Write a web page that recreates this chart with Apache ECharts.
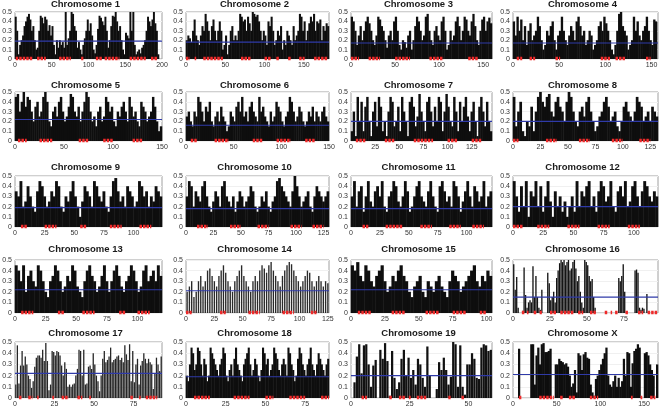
<!DOCTYPE html>
<html><head><meta charset="utf-8">
<script src="https://cdn.jsdelivr.net/npm/echarts@6.0.0/dist/echarts.min.js"></script>
<style>html,body{margin:0;padding:0;background:#fff}#c{width:661px;height:411px}</style>
</head><body><div id="c"></div>
<script>
// ---- data ----
const chrNames = ['Chromosome 1','Chromosome 2','Chromosome 3','Chromosome 4','Chromosome 5','Chromosome 6','Chromosome 7','Chromosome 8','Chromosome 9','Chromosome 10','Chromosome 11','Chromosome 12','Chromosome 13','Chromosome 14','Chromosome 15','Chromosome 16','Chromosome 17','Chromosome 18','Chromosome 19','Chromosome X'];
const binMb = [2,2,2,2,2,2,2,2,2,2,2,2,2,2,2,1,1,1,1,2];
const axisMaxMb = [200,182,160,157,150,150,146,132,124,130,122,120,120,126,104,98,93,90,60,166];
const tickStepMb = [50,50,50,50,50,50,25,25,25,25,25,25,25,25,25,25,25,25,25,50];
const thresholds = [0.19,0.18,0.17,0.17,0.22,0.16,0.2,0.2,0.19,0.18,0.18,0.2,0.22,0.21,0.22,0.15,0.22,0.19,0.2,0.21];
const yTicks = [0,0.1,0.2,0.3,0.4,0.5];

const chr1 = [0.45,0.3,0.05,0.15,0.2,0.25,0.35,0.4,0.45,0.48,0.42,0.3,0.35,0.2,0.1,0.12,0.3,0.46,0.44,0.38,0.45,0.42,0.3,0.36,0.25,0.35,0.15,0.05,0.2,0.12,0.2,0.15,0.18,0.12,0.5,0.15,0.22,0.3,0.5,0.48,0.35,0.3,0.12,0.18,0.1,0.05,0.15,0.22,0.3,0.42,0.3,0.38,0.25,0.1,0.06,0.15,0.32,0.46,0.44,0.4,0.36,0.45,0.3,0.12,0.2,0.35,0.46,0.45,0.5,0.4,0.3,0.35,0.2,0.1,0.05,0.28,0.25,0.22,0.5,0.3,0.5,0.15,0.05,0.08,0.1,0.06,0.12,0.15,0.2,0.3,0.45,0.4,0.35,0.42,0.5,0.38,0.3,0.05];
const chr2 = [0.2,0.25,0.22,0.18,0.3,0.42,0.25,0.2,0.15,0.25,0.35,0.3,0.48,0.4,0.3,0.2,0.35,0.42,0.3,0.2,0.3,0.4,0.3,0.1,0.15,0.25,0.05,0.15,0.3,0.35,0.2,0.25,0.2,0.3,0.48,0.45,0.4,0.42,0.3,0.45,0.38,0.3,0.5,0.48,0.45,0.47,0.4,0.3,0.2,0.3,0.25,0.15,0.4,0.35,0.45,0.3,0.15,0.2,0.3,0.25,0.35,0.1,0.2,0.15,0.3,0.25,0.2,0.15,0.35,0.2,0.25,0.3,0.48,0.45,0.3,0.4,0.2,0.3,0.38,0.45,0.4,0.48,0.3,0.4,0.38,0.42,0.2,0.35,0.3,0.38,0.35];
const chr3 = [0.45,0.4,0.3,0.15,0.25,0.35,0.2,0.3,0.4,0.45,0.38,0.3,0.2,0.15,0.25,0.45,0.42,0.35,0.3,0.2,0.12,0.25,0.3,0.2,0.4,0.45,0.3,0.15,0.1,0.2,0.18,0.12,0.25,0.3,0.1,0.2,0.35,0.45,0.4,0.3,0.2,0.25,0.45,0.48,0.3,0.2,0.15,0.3,0.35,0.25,0.2,0.4,0.45,0.3,0.1,0.15,0.3,0.2,0.25,0.4,0.45,0.35,0.2,0.3,0.45,0.42,0.3,0.25,0.4,0.48,0.35,0.2,0.15,0.3,0.42,0.45,0.3,0.4,0.44,0.38];
const chr4 = [0.4,0.25,0.45,0.3,0.42,0.2,0.35,0.15,0.3,0.38,0.2,0.25,0.3,0.45,0.35,0.2,0.1,0.15,0.3,0.25,0.35,0.4,0.2,0.1,0.25,0.3,0.45,0.3,0.2,0.15,0.25,0.35,0.3,0.2,0.4,0.45,0.35,0.25,0.3,0.15,0.2,0.3,0.25,0.1,0.15,0.2,0.35,0.4,0.3,0.45,0.38,0.3,0.2,0.1,0.05,0.15,0.3,0.48,0.5,0.35,0.3,0.25,0.1,0.15,0.2,0.45,0.3,0.4,0.25,0.2,0.3,0.35,0.45,0.3,0.2,0.15,0.42,0.4];
const chr5 = [0.45,0.48,0.3,0.4,0.5,0.35,0.45,0.42,0.3,0.2,0.35,0.4,0.25,0.3,0.45,0.5,0.4,0.2,0.15,0.3,0.35,0.25,0.4,0.45,0.3,0.2,0.25,0.35,0.48,0.45,0.3,0.25,0.35,0.2,0.3,0.4,0.5,0.45,0.3,0.2,0.25,0.15,0.3,0.35,0.2,0.25,0.45,0.4,0.3,0.35,0.2,0.15,0.3,0.25,0.35,0.4,0.3,0.2,0.45,0.35,0.25,0.3,0.2,0.15,0.4,0.35,0.3,0.2,0.25,0.3,0.45,0.35,0.2,0.1,0.15];
const chr6 = [0.25,0.3,0.2,0.15,0.3,0.25,0.45,0.4,0.3,0.2,0.35,0.3,0.4,0.2,0.15,0.25,0.3,0.2,0.35,0.25,0.2,0.1,0.15,0.3,0.25,0.2,0.35,0.4,0.3,0.45,0.25,0.3,0.2,0.35,0.4,0.3,0.25,0.2,0.45,0.3,0.35,0.25,0.2,0.15,0.3,0.2,0.25,0.4,0.35,0.3,0.2,0.15,0.25,0.3,0.45,0.4,0.3,0.2,0.25,0.35,0.3,0.2,0.15,0.2,0.3,0.25,0.35,0.2,0.3,0.25,0.2,0.3,0.35,0.25,0.2];
const chr7 = [0.1,0.3,0.05,0.45,0.2,0.4,0.1,0.35,0.45,0.2,0.05,0.3,0.4,0.15,0.45,0.35,0.1,0.2,0.05,0.3,0.45,0.4,0.15,0.2,0.35,0.1,0.45,0.3,0.2,0.05,0.4,0.45,0.35,0.15,0.25,0.48,0.3,0.2,0.1,0.4,0.45,0.3,0.15,0.35,0.2,0.45,0.4,0.1,0.3,0.48,0.35,0.2,0.15,0.45,0.3,0.1,0.4,0.2,0.35,0.45,0.25,0.1,0.3,0.4,0.2,0.05,0.35,0.45,0.3,0.15,0.4,0.2,0.1];
const chr8 = [0.45,0.15,0.3,0.4,0.1,0.05,0.2,0.15,0.35,0.1,0.3,0.45,0.5,0.4,0.35,0.45,0.48,0.3,0.25,0.4,0.45,0.35,0.3,0.2,0.4,0.5,0.45,0.3,0.2,0.15,0.3,0.35,0.25,0.4,0.45,0.3,0.2,0.1,0.15,0.25,0.3,0.4,0.45,0.35,0.2,0.25,0.3,0.15,0.1,0.2,0.35,0.4,0.3,0.25,0.2,0.3,0.45,0.4,0.35,0.2,0.25,0.3,0.2,0.35,0.3,0.25];
const chr9 = [0.35,0.3,0.45,0.2,0.25,0.4,0.3,0.2,0.15,0.35,0.45,0.4,0.3,0.2,0.25,0.35,0.3,0.45,0.4,0.2,0.15,0.3,0.25,0.35,0.45,0.3,0.2,0.1,0.25,0.4,0.35,0.3,0.2,0.45,0.4,0.3,0.25,0.35,0.2,0.15,0.3,0.45,0.48,0.35,0.25,0.3,0.2,0.4,0.35,0.3,0.2,0.25,0.45,0.4,0.3,0.35,0.2,0.3,0.25,0.4,0.35,0.3];
const chr10 = [0.3,0.45,0.4,0.2,0.35,0.3,0.25,0.4,0.45,0.3,0.2,0.15,0.25,0.35,0.3,0.2,0.4,0.45,0.3,0.25,0.2,0.3,0.15,0.25,0.35,0.3,0.2,0.25,0.3,0.4,0.35,0.2,0.15,0.2,0.3,0.25,0.35,0.2,0.15,0.25,0.3,0.45,0.48,0.4,0.35,0.3,0.25,0.2,0.35,0.5,0.4,0.3,0.2,0.25,0.3,0.35,0.2,0.15,0.3,0.4,0.35,0.3,0.25,0.3,0.35];
const chr11 = [0.3,0.45,0.2,0.35,0.4,0.15,0.3,0.45,0.25,0.2,0.35,0.4,0.3,0.45,0.2,0.15,0.3,0.35,0.45,0.4,0.25,0.2,0.3,0.45,0.35,0.15,0.2,0.3,0.4,0.45,0.3,0.25,0.2,0.35,0.45,0.3,0.2,0.15,0.4,0.45,0.35,0.25,0.3,0.2,0.45,0.4,0.3,0.15,0.25,0.35,0.45,0.3,0.2,0.4,0.35,0.25,0.3,0.45,0.2,0.3,0.35];
const chr12 = [0.45,0.3,0.15,0.4,0.2,0.45,0.1,0.35,0.3,0.45,0.2,0.4,0.15,0.3,0.45,0.25,0.1,0.35,0.2,0.3,0.15,0.25,0.1,0.2,0.3,0.15,0.45,0.2,0.35,0.3,0.4,0.45,0.2,0.3,0.15,0.35,0.45,0.4,0.25,0.3,0.45,0.2,0.15,0.35,0.4,0.3,0.45,0.2,0.25,0.4,0.45,0.3,0.2,0.35,0.45,0.4,0.3,0.25,0.35,0.3];
const chr13 = [0.45,0.4,0.3,0.45,0.2,0.35,0.4,0.3,0.25,0.45,0.4,0.3,0.2,0.15,0.3,0.35,0.45,0.4,0.3,0.2,0.25,0.35,0.3,0.45,0.4,0.25,0.2,0.15,0.3,0.4,0.45,0.35,0.3,0.2,0.25,0.35,0.45,0.3,0.2,0.3,0.4,0.45,0.35,0.25,0.2,0.3,0.35,0.45,0.4,0.3,0.2,0.25,0.4,0.45,0.3,0.35,0.4,0.3,0.45,0.35];
const chr14 = [0.2,0.25,0.3,0.15,0.2,0.3,0.35,0.25,0.3,0.4,0.42,0.35,0.3,0.25,0.35,0.4,0.45,0.38,0.3,0.25,0.2,0.3,0.35,0.4,0.45,0.35,0.3,0.25,0.2,0.3,0.35,0.3,0.4,0.45,0.42,0.38,0.45,0.48,0.4,0.35,0.3,0.25,0.35,0.4,0.45,0.48,0.46,0.4,0.35,0.3,0.25,0.3,0.35,0.4,0.38,0.3,0.25,0.3,0.35,0.3,0.25,0.3,0.28];
const chr15 = [0.45,0.4,0.48,0.35,0.3,0.45,0.4,0.3,0.25,0.35,0.4,0.45,0.3,0.2,0.25,0.35,0.3,0.4,0.45,0.35,0.3,0.2,0.15,0.25,0.3,0.35,0.2,0.15,0.3,0.25,0.2,0.3,0.35,0.25,0.2,0.15,0.3,0.4,0.35,0.3,0.2,0.25,0.3,0.35,0.4,0.45,0.3,0.25,0.35,0.3,0.4,0.35];
const chr16 = [0.46,0.22,0.34,0.05,0,0,0.02,0.43,0.17,0.05,0.1,0.12,0.1,0.44,0.15,0.35,0.15,0.05,0.03,0.22,0,0,0,0.38,0.28,0.12,0.15,0.2,0.1,0.33,0.4,0.47,0.5,0.48,0.5,0.45,0.48,0.5,0.4,0.42,0.48,0.5,0.42,0.3,0.35,0.2,0.1,0.05,0.5,0.48,0.45,0.35,0.3,0.32,0.15,0.05,0,0,0,0,0,0,0,0,0,0,0,0,0,0,0,0.33,0.3,0.35,0.46,0.2,0,0,0,0,0,0,0.4,0.41,0.38,0.05,0.03,0.05,0.04,0,0.18,0,0,0,0,0,0,0];
const chr17 = [0.12,0.47,0.13,0.29,0.42,0.29,0.37,0.3,0.2,0.17,0.09,0.15,0.28,0.36,0.38,0.38,0.36,0.43,0.33,0.49,0.33,0.07,0.12,0.42,0.41,0.38,0.42,0.41,0.38,0.29,0.2,0.32,0.26,0.1,0.12,0.1,0.12,0.13,0.2,0.26,0.43,0.42,0.2,0.43,0.12,0.13,0.28,0.29,0.26,0.4,0.3,0.2,0.15,0.06,0.2,0.35,0.42,0.32,0.34,0.37,0.45,0.32,0.34,0.35,0.37,0.38,0.34,0.36,0.32,0.47,0.39,0.34,0.48,0.15,0.42,0.14,0.3,0.35,0.12,0.29,0.33,0.4,0.35,0.31,0.35,0.32,0.3,0.08,0.22,0.36,0.3,0.24,0.37];
const chr18 = [0.2,0.15,0.3,0.45,0.4,0.25,0.3,0.45,0.42,0.3,0.2,0.35,0.3,0.15,0.2,0.45,0.4,0.35,0.3,0.25,0.2,0.3,0.35,0.45,0.4,0.2,0.15,0.25,0.3,0.2,0.35,0.45,0.3,0.25,0.2,0.15,0.3,0.35,0.4,0.45,0.3,0.2,0.25,0.35,0.3,0.2,0.15,0.25,0.45,0.4,0.3,0.35,0.2,0.25,0.3,0.45,0.4,0.35,0.25,0.2,0.3,0.35,0.3,0.2,0.45,0.4,0.3,0.25,0.15,0.2,0.35,0.45,0.4,0.3,0.25,0.2,0.3,0.35,0.45,0.3,0.25,0.2,0.3,0.4,0.35,0.3,0.25,0.2,0.3,0.35];
const chr19 = [0,0.14,0.37,0.48,0.22,0.47,0.48,0.3,0.1,0.29,0.34,0,0.43,0.35,0.49,0.33,0.02,0.42,0.18,0.08,0.14,0.35,0.43,0.2,0.36,0.18,0.25,0.12,0.35,0.3,0.18,0.1,0.46,0.2,0,0,0.08,0.32,0.25,0.36,0.25,0.12,0.19,0.5,0.48,0.1,0.47,0.1,0.03,0.3,0.3,0.4,0.35,0.18,0.17,0.45,0.48,0.47,0.42,0.43];
const chrX = [0,0,0,0.44,0,0,0,0,0,0,0.48,0.48,0.12,0.38,0.45,0.3,0.48,0.49,0.41,0.41,0.42,0.44,0,0,0.3,0.3,0.35,0.33,0.32,0.3,0.31,0.28,0.2,0.1,0.13,0.25,0.05,0.4,0.38,0.25,0.39,0.41,0.36,0.35,0.12,0.05,0.02,0.17,0.2,0.25,0.3,0.35,0.4,0.45,0.2,0.12,0.1,0.15,0.2,0.1,0.18,0.1,0.15,0.35,0.2,0.41,0.4,0.1,0.31,0.42,0.44,0.48,0.45,0,0,0.4,0.41,0.38,0.3,0.25,0.2,0,0.3];

// red marker runs (start Mb, end Mb) along the baseline
const red1 = [[1,24],[30,42],[60,76],[90,93],[110,119],[122,142],[156,178],[185,194]];
const red2 = [[0,5],[11,13],[22,47],[70,83],[100,108],[115,119],[130,134],[144,151],[163,180]];
const red3 = [[0,9],[20,33],[50,67],[89,105],[133,144]];
const red4 = [[4,10],[18,24],[46,51],[95,105],[111,122],[144,149]];
const red5 = [[3,12],[25,38],[65,75],[90,100],[120,130]];
const red6 = [[5,12],[30,45],[70,80],[95,110],[125,135]];
const red7 = [[5,15],[35,45],[65,85],[100,110],[125,135]];
const red8 = [[0,5],[30,40],[60,70],[90,100],[115,125]];
const red9 = [[5,10],[25,35],[55,60],[80,90],[105,115]];
const red10 = [[10,20],[40,50],[65,75],[95,105],[115,125]];
const red11 = [[10,15],[30,45],[60,70],[85,95],[105,115]];
const red12 = [[0,8],[20,30],[45,55],[70,80],[95,105]];
const red13 = [[5,15],[35,40],[55,65],[85,90],[100,110]];
const red14 = [[0,5],[30,35],[55,65],[85,95],[110,115]];
const red15 = [[5,15],[30,40],[55,65],[75,85],[95,100]];
const red16 = [[6,8],[9.4,10.5],[14,16],[18,19.5],[25,29.6],[32,41],[44,47.5],[52,56],[62,64],[66,67],[69,71],[76,78],[84.5,88],[91,98]];
const red17 = [[2.5,4.6],[8.4,11],[14,15],[23.6,24.7],[29.5,34],[39.5,42.6],[47,48],[73,75],[78.5,79.5],[82.7,90]];
const red18 = [[5,15],[30,40],[50,55],[65,75],[85,90]];
const red19 = [[4.5,6.8],[16.3,17.7],[20.4,23],[24.6,25.4],[28,32],[41.4,42.4],[47,48.2]];
const redX = [[6.7,10.5],[30,47],[54,58],[64,71],[88,97.5],[135,137],[146,148],[157,163]];

const values = [chr1,chr2,chr3,chr4,chr5,chr6,chr7,chr8,chr9,chr10,chr11,chr12,chr13,chr14,chr15,chr16,chr17,chr18,chr19,chrX];
const reds = [red1,red2,red3,red4,red5,red6,red7,red8,red9,red10,red11,red12,red13,red14,red15,red16,red17,red18,red19,redX];

// ---- layout / style ----
const COLS = [[15,162],[186,329],[351,492],[513,658]];
const ROWS = [[12,59,5],[92,141,86],[176,227,168],[260,313,250],[342,398,334]];
const FONT = 'Liberation Sans, Arial, sans-serif';
// fraction of each bin covered by its bar (1 = touching), and bar colour per panel
const barFill = [1,1,1,1,1,1,1,1,1,1,1,1,1,0.6,1,0.9,0.82,1,0.95,1];
const barColor = ['#0e0e0e','#0e0e0e','#0e0e0e','#0e0e0e','#0e0e0e','#0e0e0e','#0e0e0e','#0e0e0e','#0e0e0e','#0e0e0e','#0e0e0e','#0e0e0e','#0e0e0e','#2a2a2a','#0e0e0e','#141414','#262626','#0e0e0e','#111111','#0e0e0e'];

const grid=[], xAxis=[], yAxis=[], series=[], title=[];
chrNames.forEach((name,i)=>{
  const c = COLS[i%4], r = ROWS[Math.floor(i/4)];
  const w = c[1]-c[0];
  const step = tickStepMb[i], mx = axisMaxMb[i], bin = binMb[i];
  grid.push({left:c[0], top:r[0], width:w, height:r[1]-r[0], show:true, borderColor:'#a0a0a0', borderWidth:1, backgroundColor:'transparent', containLabel:false, outerBoundsMode:'none'});
  title.push({text:name, left:(c[0]+c[1])/2-3, top:r[2]-6, textAlign:'center', padding:0,
    textStyle:{fontSize:9.5, fontWeight:'bold', color:'#1a1a1a', fontFamily:FONT}});
  xAxis.push({gridIndex:i, type:'value', min:0, max:mx, interval:step,
    axisLine:{show:false}, axisTick:{show:false}, splitLine:{show:false},
    axisLabel:{fontSize:7, color:'#333', margin:3, fontFamily:FONT,
      formatter:v=> (Math.abs(v/step-Math.round(v/step))<1e-6 ? String(v) : '')}});
  yAxis.push({gridIndex:i, type:'value', min:yTicks[0], max:yTicks[yTicks.length-1], interval:0.1,
    axisLine:{show:false}, axisTick:{show:false},
    splitLine:{show:true, lineStyle:{color:'#f0f0f0', width:1}},
    axisLabel:{fontSize:7, color:'#333', margin:3, fontFamily:FONT}});
  const ppu = w/mx;
  const bw = barFill[i] >= 1 ? ppu*bin + 0.5 : ppu*bin*barFill[i];
  series.push({type:'bar', xAxisIndex:i, yAxisIndex:i, z:2,
    data: values[i].map((v,k)=>[(k+0.5)*bin, v]),
    barWidth: bw,
    itemStyle:{color: barColor[i]},
    silent:true, animation:false
  });
  // threshold line
  series.push({type:'line', xAxisIndex:i, yAxisIndex:i, z:6,
    data:[[0,thresholds[i]],[mx,thresholds[i]]],
    symbol:'none', silent:true, animation:false,
    lineStyle:{color:'#2f3aa8', width:1.1}
  });
  // red marker runs
  const redData = [];
  reds[i].forEach(([s,e],k)=>{ if(k) redData.push([null,null]); redData.push([s,0.004],[e,0.004]); });
  series.push({type:'line', xAxisIndex:i, yAxisIndex:i, z:5,
    data: redData, connectNulls:false, clip:false,
    symbol:'none', silent:true, animation:false,
    lineStyle:{color:'#ee2a2a', width:3.5, type:[2.5,1], cap:'butt'}
  });
});

const chart = echarts.init(document.getElementById('c'), null, {renderer:'canvas'});
chart.setOption({animation:false, backgroundColor:'#fff', title, grid, xAxis, yAxis, series});
</script></body></html>
